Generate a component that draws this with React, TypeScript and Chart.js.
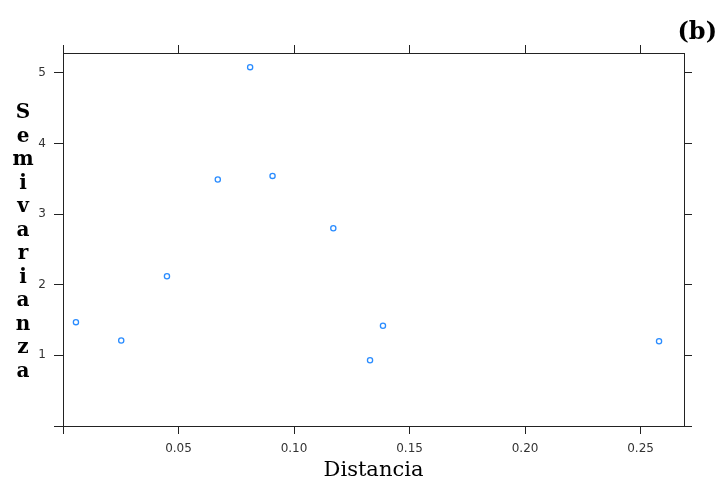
import React, { useEffect, useRef } from 'react';
import { Chart, registerables } from 'chart.js';

Chart.register(...registerables);

const distancia = [0.0056, 0.0252, 0.045, 0.067, 0.081, 0.0907, 0.117, 0.1329, 0.1385, 0.258];
const semivarianza = [1.47, 1.21, 2.12, 3.49, 5.08, 3.54, 2.8, 0.93, 1.42, 1.2];
const xTicks = [0, 0.05, 0.1, 0.15, 0.2, 0.25];
const yTicks = [0, 1, 2, 3, 4, 5];
const xRange = [0, 0.2688];
const yRange = [0, 5.28];
const xTitle = 'Distancia';
const yTitle = 'Semivarianza';
const panelLabel = '(b)';

const AXIS_COLOR = '#222';
const POINT_COLOR = '#2a8cff';

const verticalTitle = {
  id: 'verticalTitle',
  afterDraw(chart: any) {
    const { ctx, chartArea } = chart;
    const letters = yTitle.split('');
    const step = 23.5;
    const cy = (chartArea.top + chartArea.bottom) / 2 + 3;
    const y0 = cy - (step * (letters.length - 1)) / 2;
    ctx.save();
    ctx.font = 'bold 20px "DejaVu Serif"';
    ctx.fillStyle = '#000';
    ctx.textAlign = 'center';
    ctx.textBaseline = 'middle';
    letters.forEach((l: string, i: number) => ctx.fillText(l, 23, y0 + i * step));
    ctx.restore();
  },
};

export default function App() {
  const ref = useRef<HTMLCanvasElement | null>(null);

  useEffect(() => {
    document.body.style.margin = '0';
    if (!ref.current) return;
    const tickFont = { family: '"DejaVu Sans"', size: 12 };
    const setX = (s: any) => {
      s.ticks = xTicks.map((v) => ({ value: v }));
    };
    const setY = (s: any) => {
      s.ticks = yTicks.map((v) => ({ value: v }));
    };
    const chart = new Chart(ref.current, {
      type: 'scatter',
      data: {
        datasets: [
          {
            data: distancia.map((x, i) => ({ x, y: semivarianza[i] })),
            pointStyle: 'circle',
            pointRadius: 2.6,
            pointBorderWidth: 1.3,
            borderColor: POINT_COLOR,
            backgroundColor: 'rgba(0,0,0,0)',
            pointBackgroundColor: 'rgba(0,0,0,0)',
            pointBorderColor: POINT_COLOR,
          },
        ],
      },
      options: {
        animation: false,
        responsive: true,
        maintainAspectRatio: false,
        layout: { padding: { left: 0, right: 4, top: 0, bottom: 0 } },
        plugins: {
          legend: { display: false },
          tooltip: { enabled: false },
          title: {
            display: true,
            text: panelLabel,
            align: 'end',
            color: '#000',
            font: { family: '"DejaVu Serif"', size: 24, weight: 'bold' },
            padding: { top: 18, bottom: 0 },
          },
        },
        scales: {
          x: {
            type: 'linear',
            position: 'bottom',
            min: xRange[0],
            max: xRange[1],
            afterBuildTicks: setX,
            afterFit: (s: any) => {
              s.height = 58;
            },
            ticks: {
              callback: (v: any) => (v === 0 ? '' : Number(v).toFixed(2)),
              padding: 8,
              color: '#333',
              font: tickFont,
              maxRotation: 0,
              autoSkip: false,
            },
            grid: { drawOnChartArea: false, tickLength: 8, color: AXIS_COLOR },
            border: { color: AXIS_COLOR, width: 1 },
            title: {
              display: true,
              text: xTitle,
              color: '#000',
              font: { family: '"DejaVu Serif"', size: 21 },
              padding: { top: 0, bottom: 1 },
            },
          },
          x2: {
            type: 'linear',
            position: 'top',
            min: xRange[0],
            max: xRange[1],
            afterBuildTicks: setX,
            afterFit: (s: any) => {
              s.height = 6.2;
            },
            ticks: { display: false },
            grid: { drawOnChartArea: false, tickLength: 8, color: AXIS_COLOR },
            border: { color: AXIS_COLOR, width: 1 },
          },
          y: {
            type: 'linear',
            position: 'left',
            min: yRange[0],
            max: yRange[1],
            afterBuildTicks: setY,
            afterFit: (s: any) => {
              s.width = 63;
            },
            ticks: {
              callback: (v: any) => (v === 0 ? '' : String(v)),
              padding: 8,
              color: '#333',
              font: tickFont,
              autoSkip: false,
            },
            grid: { drawOnChartArea: false, tickLength: 9, color: AXIS_COLOR },
            border: { color: AXIS_COLOR, width: 1 },
          },
          y2: {
            type: 'linear',
            position: 'right',
            min: yRange[0],
            max: yRange[1],
            afterBuildTicks: setY,
            afterFit: (s: any) => {
              s.width = 33;
            },
            ticks: { display: false },
            grid: { drawOnChartArea: false, tickLength: 8, color: AXIS_COLOR },
            border: { color: AXIS_COLOR, width: 1 },
          },
        },
      },
      plugins: [verticalTitle],
    } as any);
    return () => chart.destroy();
  }, []);

  return (
    <div style={{ width: 721, height: 484, position: 'relative' }}>
      <canvas ref={ref} />
    </div>
  );
}
